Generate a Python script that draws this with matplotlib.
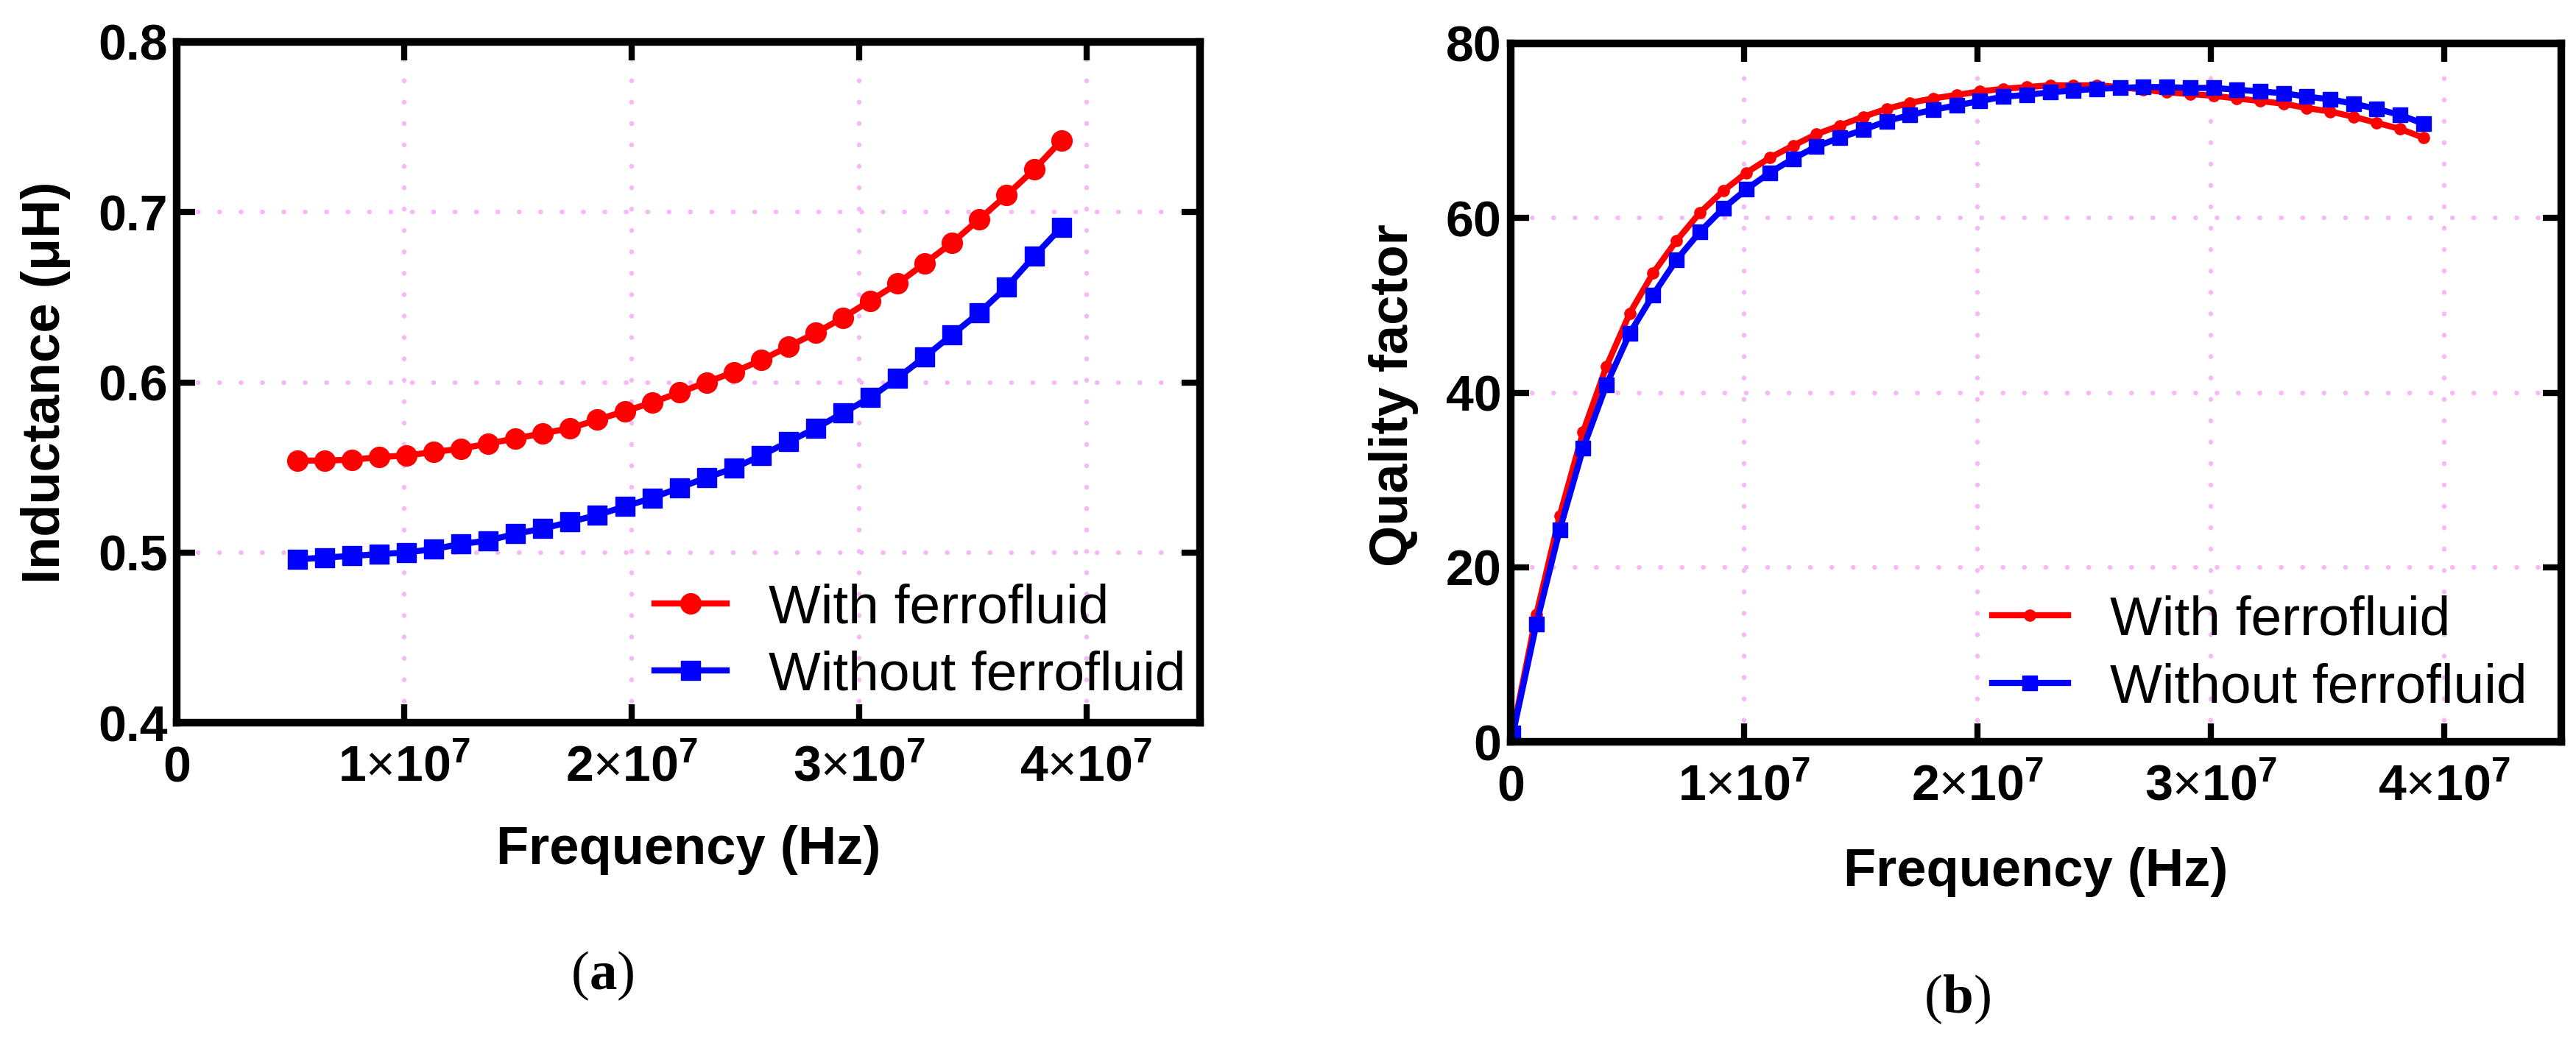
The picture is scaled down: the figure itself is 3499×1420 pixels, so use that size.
import matplotlib
matplotlib.use('Agg')
import matplotlib.pyplot as plt
from matplotlib.offsetbox import TextArea, HPacker, AnnotationBbox

plt.rcParams['font.family'] = ['Liberation Sans', 'DejaVu Sans']
plt.rcParams['mathtext.fontset'] = 'custom'
plt.rcParams['mathtext.rm'] = 'Liberation Sans'
plt.rcParams['mathtext.bf'] = 'Liberation Sans:bold'

# ---------------- data ----------------
# (a) Inductance vs frequency
freq_a_mhz = [5.3, 6.5, 7.7, 8.9, 10.1, 11.3, 12.5, 13.7, 14.9, 16.1, 17.3, 18.5, 19.7, 20.9,
              22.1, 23.3, 24.5, 25.7, 26.9, 28.1, 29.3, 30.5, 31.7, 32.9, 34.1, 35.3, 36.5,
              37.7, 38.9]
ind_with = [0.554, 0.554, 0.5545, 0.556, 0.557, 0.559, 0.561, 0.564, 0.567, 0.570, 0.573,
            0.578, 0.583, 0.588, 0.594, 0.600, 0.606, 0.613, 0.621, 0.629, 0.638, 0.648,
            0.658, 0.670, 0.682, 0.696, 0.710, 0.725, 0.742]
ind_without = [0.496, 0.497, 0.498, 0.499, 0.500, 0.502, 0.505, 0.507, 0.511, 0.514, 0.518,
               0.522, 0.527, 0.532, 0.538, 0.544, 0.5495, 0.557, 0.565, 0.573, 0.582, 0.591,
               0.6025, 0.615, 0.628, 0.641, 0.656, 0.674, 0.691]

# (b) Quality factor vs frequency
freq_b_mhz = [0.1, 1.1, 2.1, 3.1, 4.1, 5.1, 6.1, 7.1, 8.1, 9.1, 10.1, 11.1, 12.1, 13.1, 14.1,
              15.1, 16.1, 17.1, 18.1, 19.1, 20.1, 21.1, 22.1, 23.1, 24.1, 25.1, 26.1, 27.1,
              28.1, 29.1, 30.1, 31.1, 32.1, 33.1, 34.1, 35.1, 36.1, 37.1, 38.1, 39.1]
q_with = [1.2, 14.6, 25.9, 35.5, 43.0, 49.1, 53.7, 57.4, 60.6, 63.1, 65.2, 66.9, 68.3, 69.6,
          70.6, 71.6, 72.5, 73.2, 73.7, 74.1, 74.5, 74.8, 75.0, 75.2, 75.2, 75.2, 75.0, 74.7,
          74.4, 74.2, 74.0, 73.7, 73.4, 73.1, 72.6, 72.2, 71.6, 70.9, 70.2, 69.2]
q_without = [1.0, 13.5, 24.3, 33.6, 40.9, 46.8, 51.2, 55.2, 58.4, 61.1, 63.3, 65.2, 66.8, 68.2,
             69.2, 70.1, 71.1, 71.8, 72.4, 72.9, 73.4, 73.9, 74.1, 74.4, 74.6, 74.8, 74.9, 75.0,
             75.0, 74.9, 74.9, 74.7, 74.5, 74.3, 73.9, 73.6, 73.1, 72.5, 71.8, 70.8]

x_ticks = [0, 1e7, 2e7, 3e7, 4e7]
x_tick_labels = [r'$\mathbf{0}$', r'$\mathbf{1}{\times}\mathbf{10^{7}}$',
                 r'$\mathbf{2}{\times}\mathbf{10^{7}}$', r'$\mathbf{3}{\times}\mathbf{10^{7}}$',
                 r'$\mathbf{4}{\times}\mathbf{10^{7}}$']
ya_ticks = [0.4, 0.5, 0.6, 0.7, 0.8]
ya_tick_labels = ['0.4', '0.5', '0.6', '0.7', '0.8']
yb_ticks = [0, 20, 40, 60, 80]
yb_tick_labels = ['0', '20', '40', '60', '80']

series_labels = ['With ferrofluid', 'Without ferrofluid']
RED = '#ff0000'
BLUE = '#0000ff'
GRID = '#f8b8f8'

# ---------------- figure ----------------
W, H = 3499, 1420
fig = plt.figure(figsize=(W / 100, H / 100), dpi=100)
fig.patch.set_facecolor('white')

axL = fig.add_axes([240 / W, 1 - 982 / H, 1390 / W, 925 / H])
axR = fig.add_axes([2052 / W, 1 - 1008 / H, 1427 / W, 949 / H])


def style(ax, yticks, ylabels, ylim):
    ax.set_xlim(0, 4.5e7)
    ax.set_ylim(*ylim)
    ax.set_xticks(x_ticks, x_tick_labels)
    ax.set_yticks(yticks, ylabels)
    ax.tick_params(direction='in', length=18, width=6, top=True, right=True,
                   labelsize=49)
    ax.tick_params(axis='x', pad=57)
    ax.tick_params(axis='y', pad=9)
    for lab in ax.get_yticklabels():
        lab.set_fontweight('bold')
    for lab in ax.get_xticklabels():
        lab.set_va('baseline')
    for s in ax.spines.values():
        s.set_linewidth(7.5)
    ax.set_axisbelow(True)
    ax.grid(True, color=GRID, linestyle=(0, (0.05, 4.5)), linewidth=4.6,
            dash_capstyle='round')


# (a)
fa = [f * 1e6 for f in freq_a_mhz]
axL.plot(fa, ind_with, '-o', color=RED, lw=6, markersize=20, label=series_labels[0])
axL.plot(fa, ind_without, '-s', color=BLUE, lw=6, markersize=19, label=series_labels[1])
style(axL, ya_ticks, ya_tick_labels, (0.4, 0.8))
axL.legend(loc='center left', bbox_to_anchor=(0.4669, 0.1184), frameon=False,
           prop=dict(family='Liberation Sans', size=54), handlelength=1.31,
           handletextpad=0.76, labelspacing=0.3, borderpad=0, borderaxespad=0,
           numpoints=1)

# (b)
fb = [f * 1e6 for f in freq_b_mhz]
axR.plot(fb, q_with, '-o', color=RED, lw=6, markersize=11, label=series_labels[0])
axR.plot(fb, q_without, '-s', color=BLUE, lw=6, markersize=14, label=series_labels[1])
style(axR, yb_ticks, yb_tick_labels, (0, 80))
axR.legend(loc='center left', bbox_to_anchor=(0.4583, 0.1254), frameon=False,
           prop=dict(family='Liberation Sans', size=54), handlelength=1.37,
           handletextpad=0.76, labelspacing=0.3, borderpad=0, borderaxespad=0,
           numpoints=1)

# axis labels
lab_kw = dict(fontsize=52, fontweight='bold', ha='center', va='center')
fig.text(62 / W, 1 - 520 / H, 'Inductance (μH)', rotation=90, **lab_kw)
fig.text(935 / W, 1 - 1155 / H, 'Frequency (Hz)', **lab_kw)
fig.text(1893 / W, 1 - 537 / H, 'Quality factor', rotation=90, **lab_kw)
fig.text(2765 / W, 1 - 1185 / H, 'Frequency (Hz)', **lab_kw)


# panel labels "(a)", "(b)" with bold letter
def panel_label(letter, px, py):
    tp = dict(family='Liberation Serif', size=54)
    tpb = dict(family='Liberation Serif', size=54, weight='bold')
    box = HPacker(children=[TextArea('(', textprops=tp), TextArea(letter, textprops=tpb),
                            TextArea(')', textprops=tp)], pad=0, sep=0, align='baseline')
    ab = AnnotationBbox(box, (px / W, 1 - py / H), xycoords='figure fraction',
                        frameon=False, box_alignment=(0.5, 0.5))
    fig.add_artist(ab)


panel_label('a', 819, 1326)
panel_label('b', 2660, 1358)

fig.savefig('out.png', dpi=100)
